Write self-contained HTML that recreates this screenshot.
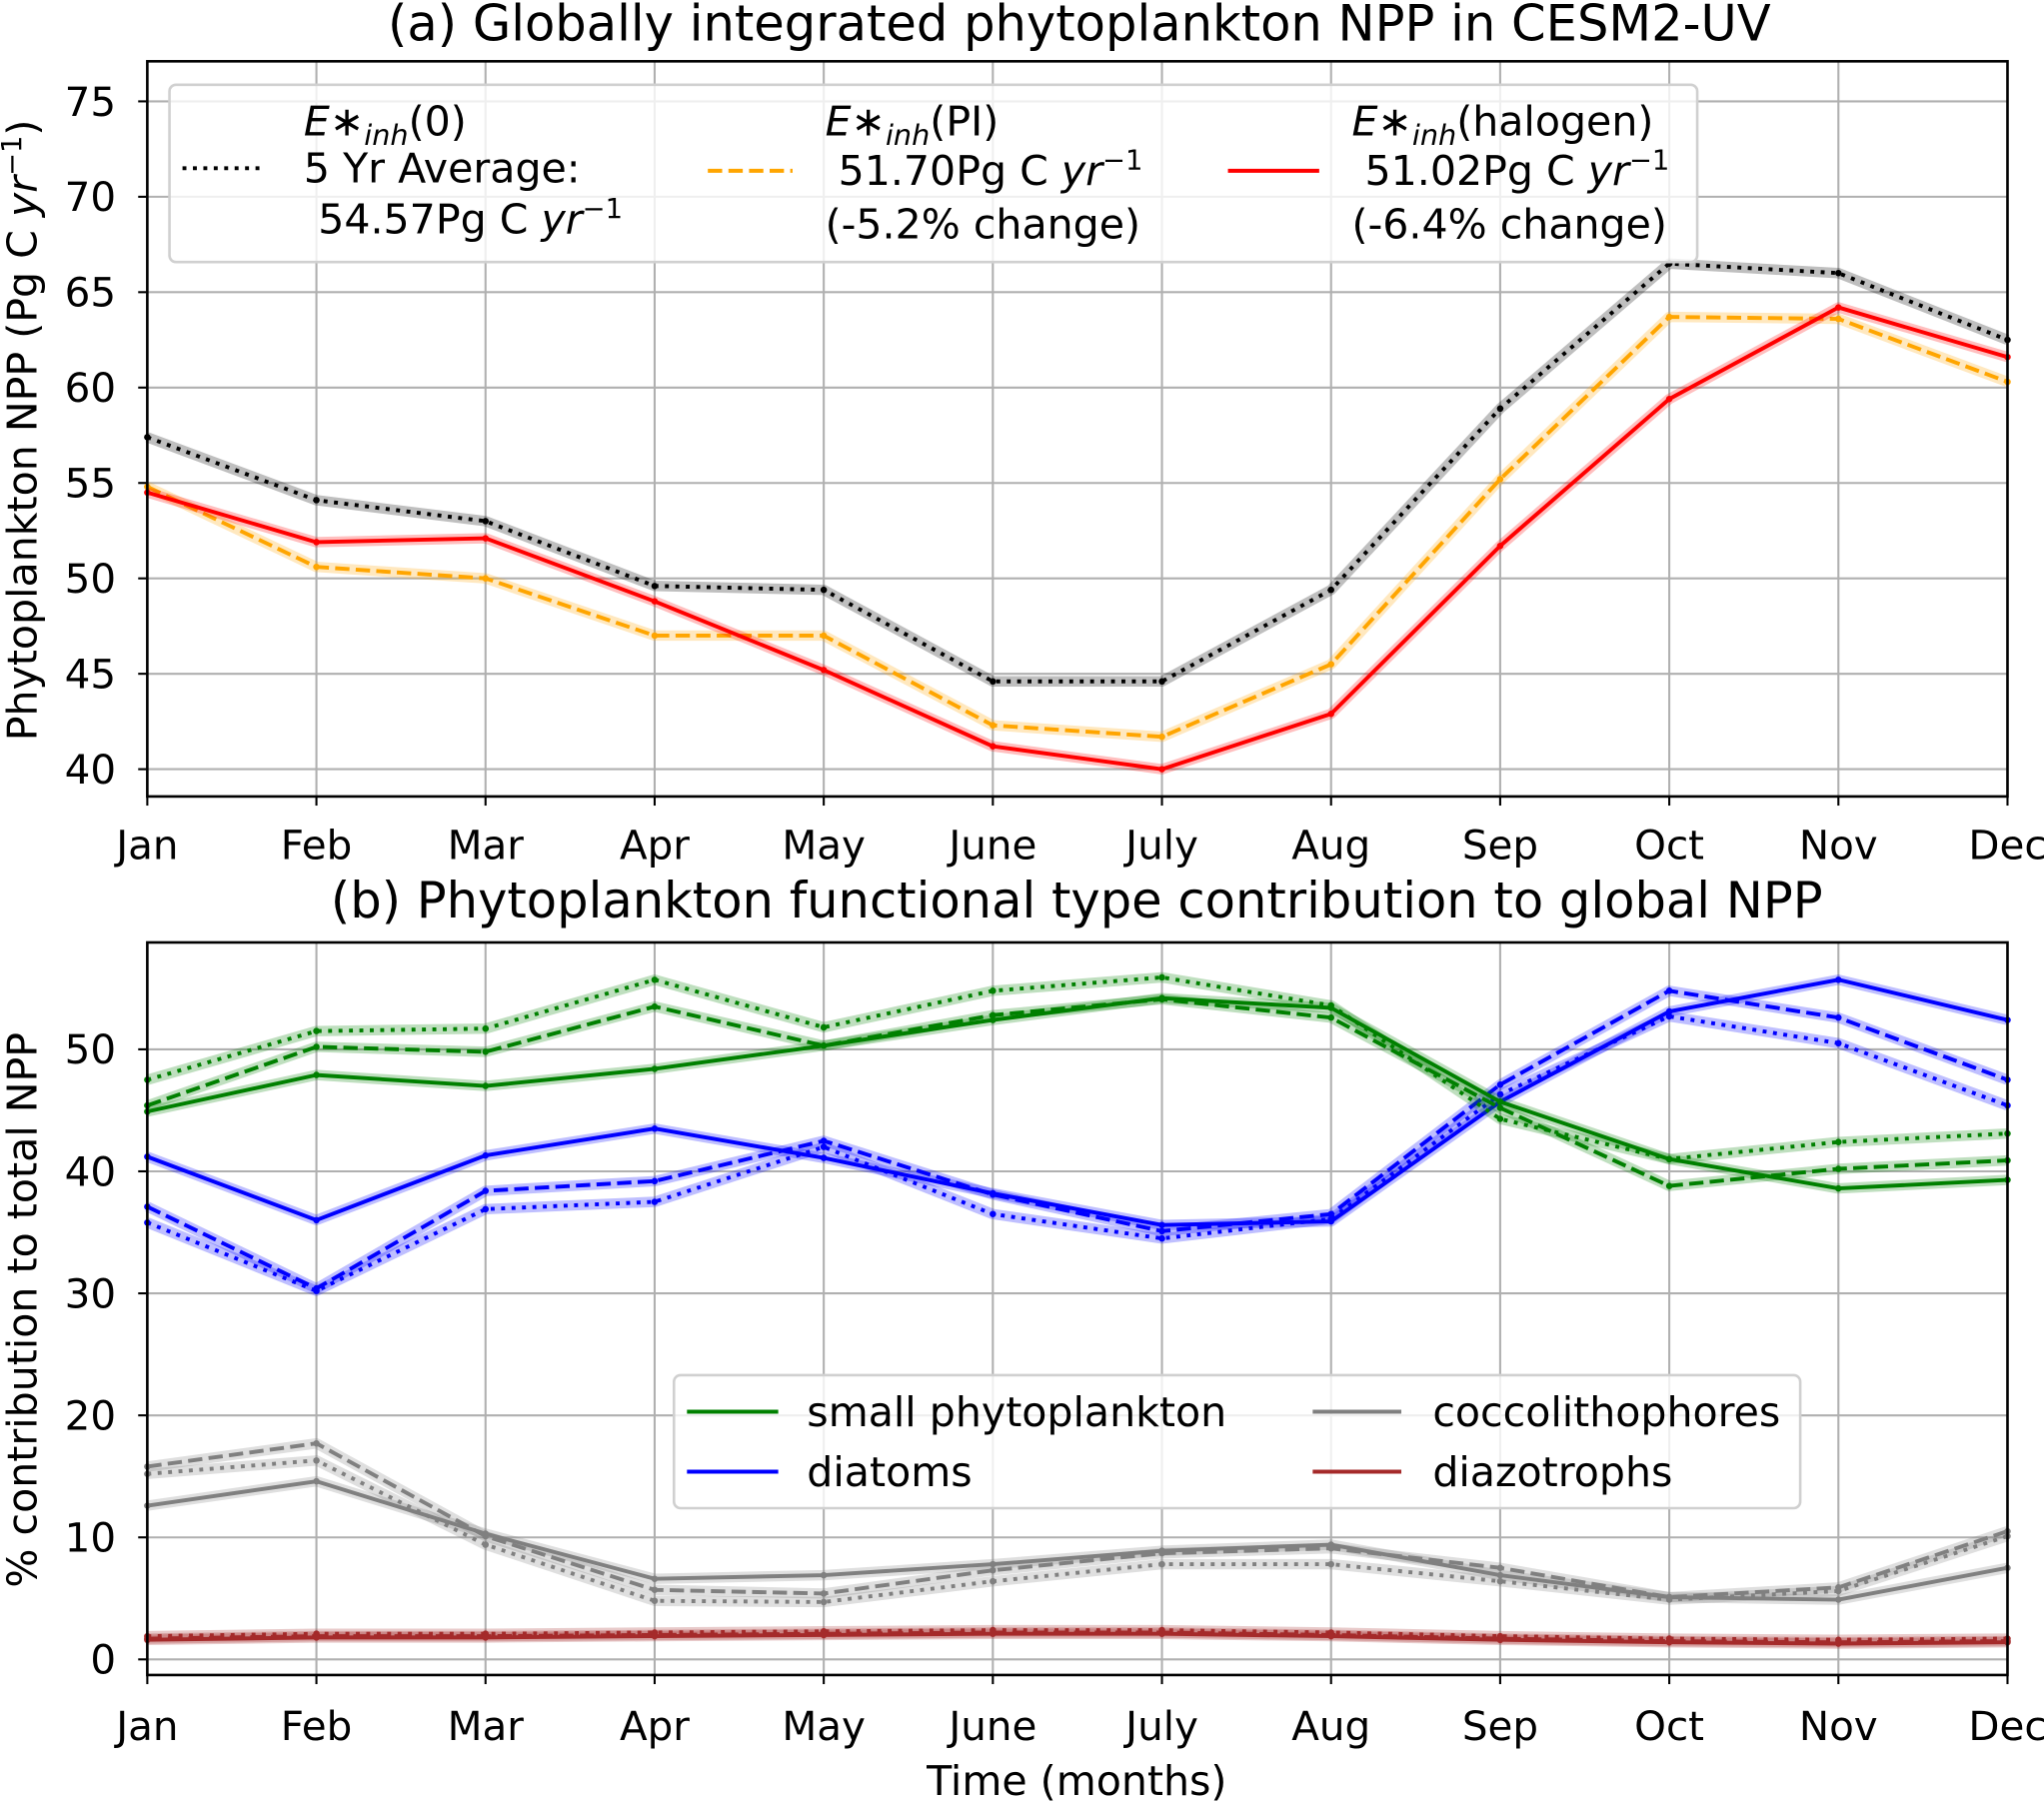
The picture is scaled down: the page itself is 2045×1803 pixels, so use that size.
<!DOCTYPE html>
<html><head><meta charset="utf-8"><style>
html,body{margin:0;padding:0;background:#fff;}
svg{display:block;}
text{font-family:"DejaVu Sans","Liberation Sans",sans-serif;fill:#000;}
</style></head><body>
<svg id="chart" xmlns="http://www.w3.org/2000/svg" width="2045" height="1803" viewBox="0 0 1568 1382.4">
<rect width="1568" height="1383" fill="#fff"/>
<g id="pa"></g>
<g id="pb"></g>
</svg>
<script>
const months = ["Jan","Feb","Mar","Apr","May","June","July","Aug","Sep","Oct","Nov","Dec"];
// Panel (a) NPP, Pg C / yr
const nppE0 = [57.4,54.1,53.0,49.6,49.4,44.6,44.6,49.4,58.9,66.5,66.0,62.5];
const nppPI = [54.8,50.6,50.0,47.0,47.0,42.3,41.7,45.5,55.2,63.7,63.6,60.3];
const nppHal = [54.5,51.9,52.1,48.8,45.2,41.2,40.0,42.9,51.7,59.4,64.2,61.6];
const ticksA = [40,45,50,55,60,65,70,75];
// Panel (b) % contributions: E0 (dotted), PI (dashed), halogen (solid)
const spSolid = [44.9,47.9,47.0,48.4,50.3,52.4,54.2,53.4,45.7,41.0,38.6,39.3];
const spDash  = [45.4,50.2,49.8,53.5,50.3,52.8,54.1,52.6,45.2,38.8,40.2,40.9];
const spDot   = [47.5,51.5,51.7,55.7,51.8,54.8,55.9,53.6,44.3,41.0,42.4,43.1];
const diSolid = [41.2,36.0,41.3,43.5,41.1,38.2,35.6,35.9,45.7,53.1,55.7,52.4];
const diDash  = [37.1,30.4,38.4,39.2,42.5,38.1,35.1,36.5,47.1,54.8,52.6,47.5];
const diDot   = [35.8,30.2,36.9,37.5,42.0,36.5,34.5,36.1,46.3,52.7,50.5,45.4];
const coSolid = [12.6,14.6,10.3,6.6,6.9,7.8,8.9,9.4,6.9,5.1,4.9,7.5];
const coDash  = [15.8,17.7,10.1,5.7,5.4,7.3,8.7,9.1,7.5,5.1,5.9,10.5];
const coDot   = [15.2,16.3,9.4,4.8,4.7,6.4,7.8,7.8,6.4,4.9,5.6,10.1];
const dzSolid = [1.6,1.8,1.8,1.9,2.0,2.1,2.1,1.9,1.6,1.4,1.3,1.4];
const dzDash  = [1.7,1.9,1.9,2.0,2.1,2.2,2.2,2.0,1.7,1.5,1.4,1.5];
const dzDot   = [1.9,2.1,2.1,2.2,2.3,2.4,2.4,2.2,1.9,1.7,1.6,1.7];
const ticksB = [0,10,20,30,40,50];

const NS="http://www.w3.org/2000/svg";
function mk(parent,tag,attrs,txt){const e=document.createElementNS(NS,tag);for(const k in attrs)e.setAttribute(k,attrs[k]);if(txt!==undefined)e.textContent=txt;parent.appendChild(e);return e;}
const X0=113,X1=1540;
const FT=31, FL=31.5, FTI=38;
const xS=i=>X0+(X1-X0)*i/11;
function yA(v){return 611-(v-38.57)/(77.1-38.57)*(611-47);}
function yB(v){return 1285-(v+1.28)/(58.76+1.28)*(1285-723);}
const DOT="3 5",DASH="11 4.8";

function axes(g,top,bot,yf,ticks,labelY,ylab,ylabY,nm){
  for(const t of ticks){const y=yf(t);
    const l=mk(g,'line',{x1:X0,x2:X1,y1:y,y2:y,stroke:'#b0b0b0','stroke-width':1.6});
    
    mk(g,'line',{x1:X0-7,x2:X0,y1:y,y2:y,stroke:'#000','stroke-width':1.6});
    const tx=mk(g,'text',{x:X0-24,y:y+11,'text-anchor':'end','font-size':FT},String(t));
    }
  months.forEach((m,i)=>{const x=xS(i);
    const l=mk(g,'line',{x1:x,x2:x,y1:top,y2:bot,stroke:'#b0b0b0','stroke-width':1.6});
    
    mk(g,'line',{x1:x,x2:x,y1:bot,y2:bot+7,stroke:'#000','stroke-width':1.6});
    const tx=mk(g,'text',{x:x,y:labelY,'text-anchor':'middle','font-size':FT},m);
    });
  const yl=mk(g,'text',{x:0,y:0,'text-anchor':'middle','font-size':FL,transform:`translate(28,${ylabY}) rotate(-90)`});
  yl.innerHTML=ylab;
  
}
function frame(g,top,bot,nm){const r=mk(g,'rect',{x:X0,y:top,width:X1-X0,height:bot-top,fill:'none',stroke:'#000','stroke-width':2});
  }
function series(g,vals,yf,color,dash,name){
  const pts=vals.map((v,i)=>xS(i).toFixed(1)+','+yf(v).toFixed(1)).join(' ');
  const band=mk(g,'polyline',{points:pts,fill:'none',stroke:color,'stroke-opacity':0.25,'stroke-width':8,'stroke-linejoin':'round'});
  
  const a={points:pts,fill:'none',stroke:color,'stroke-width':3,'stroke-linejoin':'round'};
  if(dash)a['stroke-dasharray']=dash;
  const p=mk(g,'polyline',a);
  
  vals.forEach((v,i)=>{const c=mk(g,'circle',{cx:xS(i),cy:yf(v),r:2.5,fill:color});
    });
}
// Panel a
const pa=document.getElementById('pa');
const ta=mk(pa,'text',{x:828,y:31,'text-anchor':'middle','font-size':FTI},'(a) Globally integrated phytoplankton NPP in CESM2-UV');

axes(pa,47,611,yA,ticksA,659,'Phytoplankton NPP (Pg C <tspan font-style="italic">yr</tspan><tspan font-size="21" dy="-12">−1</tspan><tspan dy="12">)</tspan>',330,'panel-a');
series(pa,nppPI,yA,'#ffa500',DASH,'npp-pi-line');
series(pa,nppHal,yA,'#ff0000',null,'npp-halogen-line');
series(pa,nppE0,yA,'#000000',DOT,'npp-e0-line');
frame(pa,47,611,'panel-a');
// legend a
const la=mk(pa,'g',{});
mk(la,'rect',{x:130,y:65,width:1172,height:136,rx:5,fill:'#fff','fill-opacity':0.8,stroke:'#d0d0d0','stroke-width':2});
function sub(label){return `<tspan font-style="italic">E</tspan><tspan font-style="italic">∗</tspan><tspan font-style="italic" font-size="22" dy="7">inh</tspan><tspan dy="-7">(${label})</tspan>`;}
function leg(g,x1,x2,y,color,dash,nm){const a={x1:x1,x2:x2,y1:y,y2:y,stroke:color,'stroke-width':3};if(dash)a['stroke-dasharray']=dash;const l=mk(g,'line',a);}
const yr='Pg C <tspan font-style="italic">yr</tspan><tspan font-size="21" dy="-12">−1</tspan>';
let t;
leg(la,140,202,129,'#000',DOT,'legend-e0-sample');
t=mk(la,'text',{x:233,y:104,'font-size':FL});t.innerHTML=sub('0');
mk(la,'text',{x:233,y:140,'font-size':FL},'5 Yr Average:');
t=mk(la,'text',{x:244,y:179,'font-size':FL});t.innerHTML='54.57'+yr;
leg(la,543,608,131,'#ffa500',DASH,'legend-pi-sample');
t=mk(la,'text',{x:633,y:104,'font-size':FL});t.innerHTML=sub('PI');
t=mk(la,'text',{x:643,y:142,'font-size':FL});t.innerHTML='51.70'+yr;
mk(la,'text',{x:633,y:183,'font-size':FL},'(-5.2% change)');
leg(la,942,1012,131,'#ff0000',null,'legend-halogen-sample');
t=mk(la,'text',{x:1037,y:104,'font-size':FL});t.innerHTML=sub('halogen');
t=mk(la,'text',{x:1047,y:142,'font-size':FL});t.innerHTML='51.02'+yr;
mk(la,'text',{x:1037,y:183,'font-size':FL},'(-6.4% change)');

// Panel b
const pb=document.getElementById('pb');
const tb=mk(pb,'text',{x:826,y:704,'text-anchor':'middle','font-size':FTI},'(b) Phytoplankton functional type contribution to global NPP');

axes(pb,723,1285,yB,ticksB,1335,'% contribution to total NPP',1005,'panel-b');
const xt=mk(pb,'text',{x:826,y:1377,'text-anchor':'middle','font-size':FL},'Time (months)');

const G='#008000',B='#0000ff',C='#808080',D='#a52a2a';
series(pb,coDot,yB,C,DOT,'cocco-e0-line');series(pb,coDash,yB,C,DASH,'cocco-pi-line');series(pb,coSolid,yB,C,null,'cocco-halogen-line');
series(pb,dzDot,yB,D,DOT,'diazo-e0-line');series(pb,dzDash,yB,D,DASH,'diazo-pi-line');series(pb,dzSolid,yB,D,null,'diazo-halogen-line');
series(pb,diDot,yB,B,DOT,'diatom-e0-line');series(pb,diDash,yB,B,DASH,'diatom-pi-line');series(pb,diSolid,yB,B,null,'diatom-halogen-line');
series(pb,spDot,yB,G,DOT,'small-phyto-e0-line');series(pb,spDash,yB,G,DASH,'small-phyto-pi-line');series(pb,spSolid,yB,G,null,'small-phyto-halogen-line');
frame(pb,723,1285,'panel-b');
const lb=mk(pb,'g',{});
mk(lb,'rect',{x:517,y:1055,width:864,height:102,rx:5,fill:'#fff','fill-opacity':0.8,stroke:'#d0d0d0','stroke-width':2});
leg(lb,527,597,1083,G,null,'legend-small-phyto-sample');mk(lb,'text',{x:619,y:1094,'font-size':FL},'small phytoplankton');
leg(lb,527,597,1129,B,null,'legend-diatoms-sample');mk(lb,'text',{x:619,y:1140,'font-size':FL},'diatoms');
leg(lb,1007,1075,1083,C,null,'legend-cocco-sample');mk(lb,'text',{x:1099,y:1094,'font-size':FL},'coccolithophores');
leg(lb,1007,1075,1129,D,null,'legend-diazo-sample');mk(lb,'text',{x:1099,y:1140,'font-size':FL},'diazotrophs');
</script>
</body></html>
